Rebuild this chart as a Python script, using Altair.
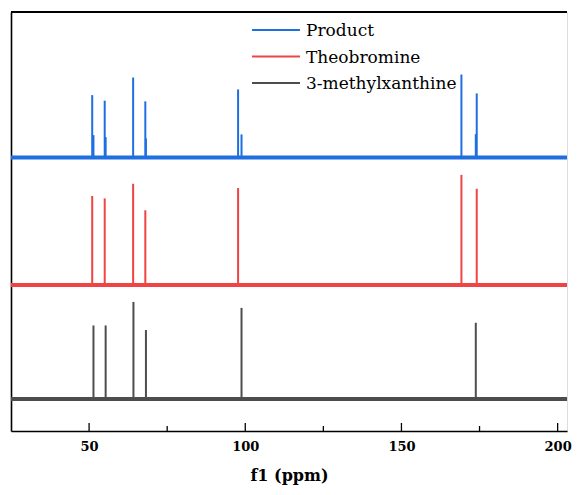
import altair as alt
import pandas as pd

# ---- data ----
series = ["Product", "Theobromine", "3-methylxanthine"]
colors = ["#1f6fe0", "#f04444", "#4d4d4d"]
baselines = [275.5, 147.0, 32.3]          # vertical offset of each trace
x_domain = [25, 203.0]

product_ppm = [51.0, 55.0, 64.1, 68.0, 97.7, 169.2, 174.1, 51.4, 55.3, 68.2, 98.8, 173.8]
product_int = [62.8, 57.2, 80.5, 56.5, 68.5, 83.5, 64.5, 22.5, 20.5, 19.2, 23.2, 23.5]
theo_ppm = [51.0, 55.0, 64.1, 68.0, 97.7, 169.2, 174.1]
theo_int = [89.7, 87.3, 102.0, 75.3, 97.7, 111.0, 97.0]
mx_ppm = [51.4, 55.3, 64.2, 68.2, 98.8, 173.8]
mx_int = [74.0, 74.0, 97.7, 69.4, 91.7, 76.7]

major_ticks = [50, 100, 150, 200]
minor_ticks = [75, 125, 175]

W, H = 556, 419
YMAX = 422
FONT = "DejaVu Serif, Noto Serif, Liberation Serif, serif"

# ---- tables ----
base_rows = []
for s, b in zip(series, baselines):
    for xv in x_domain:
        base_rows.append({"series": s, "ppm": xv, "y": b})
base_df = pd.DataFrame(base_rows)

peak_rows = []
for s, b, ppm, inten in zip(series, baselines,
                            [product_ppm, theo_ppm, mx_ppm],
                            [product_int, theo_int, mx_int]):
    for p, i in zip(ppm, inten):
        peak_rows.append({"series": s, "ppm": p, "y": b, "y2": b + i})
peak_df = pd.DataFrame(peak_rows)

tick_df = pd.DataFrame(
    [{"t": t, "kind": "major"} for t in major_ticks]
    + [{"t": t, "kind": "minor"} for t in minor_ticks]
)
legend_df = pd.DataFrame({"series": series})

xscale = alt.Scale(domain=x_domain, nice=False, zero=False)
yscale = alt.Scale(domain=[0, YMAX], nice=False, zero=False)
cscale = alt.Scale(domain=series, range=colors)
# point scale (default half-step padding) -> rows at ~18, 44.5, 71 px
lscale = alt.Scale(domain=series, range=[4.75, 84.25])

xaxis = alt.Axis(
    values=major_ticks, tickSize=0, grid=False, title="f1 (ppm)",
    domainColor="black", domainWidth=1.6, labelFont=FONT, labelFontSize=13,
    labelFontWeight="bold", labelColor="black", labelPadding=9,
    titleFont=FONT, titleFontSize=16, titleFontWeight="bold",
    titleColor="black", titlePadding=14, format="d",
)
yaxis = alt.Axis(ticks=False, labels=False, grid=False, title=None,
                 domainColor="black", domainWidth=1.6)

baseline = alt.Chart(base_df).mark_line(strokeWidth=4, clip=True).encode(
    x=alt.X("ppm:Q", scale=xscale, axis=xaxis),
    y=alt.Y("y:Q", scale=yscale, axis=yaxis),
    color=alt.Color("series:N", scale=cscale, legend=None),
    detail="series:N",
)

peaks = alt.Chart(peak_df).mark_rule(strokeWidth=2).encode(
    x=alt.X("ppm:Q", scale=xscale),
    y=alt.Y("y:Q", scale=yscale),
    y2="y2:Q",
    color=alt.Color("series:N", scale=cscale, legend=None),
)

major = alt.Chart(tick_df).transform_filter(alt.datum.kind == "major").mark_rule(
    color="black", strokeWidth=1.3
).encode(x=alt.X("t:Q", scale=xscale), y=alt.value(H), y2=alt.value(H - 8))

minor = alt.Chart(tick_df).transform_filter(alt.datum.kind == "minor").mark_rule(
    color="black", strokeWidth=1.3
).encode(x=alt.X("t:Q", scale=xscale), y=alt.value(H), y2=alt.value(H - 5))

top_border = alt.Chart(pd.DataFrame({"a": [0]})).mark_rule(
    color="black", strokeWidth=2
).encode(x=alt.value(0), x2=alt.value(W), y=alt.value(0))

main = alt.layer(baseline, peaks, major, minor, top_border)

# legend drawn as layered marks on its own point scale
leg_lines = alt.Chart(legend_df).mark_rule(strokeWidth=1.8).encode(
    x=alt.value(241), x2=alt.value(289),
    y=alt.Y("series:N", scale=lscale, axis=None),
    color=alt.Color("series:N", scale=cscale, legend=None),
)
leg_text = alt.Chart(legend_df).mark_text(
    align="left", baseline="middle", font=FONT, fontSize=17,
    color="black", dy=1,
).encode(
    x=alt.value(295),
    y=alt.Y("series:N", scale=lscale, axis=None),
    text="series:N",
)
legend = alt.layer(leg_lines, leg_text)

chart = alt.layer(main, legend).resolve_scale(
    y="independent"
).properties(
    width=W, height=H,
    autosize=alt.AutoSizeParams(type="none"),
    padding={"left": 3, "top": 4, "right": 5, "bottom": 56},
).configure_view(stroke=None).configure(background="white")

chart.save("out.html", embed_options={"renderer": "svg", "actions": False})
